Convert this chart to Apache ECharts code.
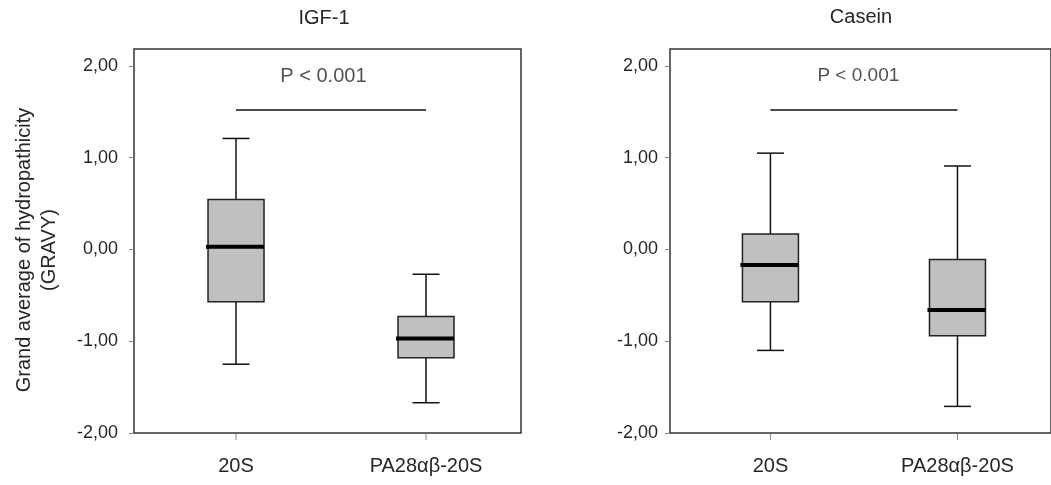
<!DOCTYPE html>
<html>
<head>
<meta charset="utf-8">
<script src="https://cdn.jsdelivr.net/npm/echarts@6/dist/echarts.min.js"></script>
<style>
  html, body { margin: 0; padding: 0; background: #fff; }
  #chart { width: 1051px; height: 485px; }
</style>
</head>
<body>
<div id="chart"></div>
<script>
// groups on the x axis
var categories = ['20S', 'PA28αβ-20S'];
// box stats per group: lower whisker, Q1, median, Q3, upper whisker
var igf1Box = [
  [-1.25, -0.57, 0.03, 0.545, 1.21],
  [-1.67, -1.18, -0.97, -0.73, -0.27]
];
var caseinBox = [
  [-1.10, -0.57, -0.17, 0.17, 1.05],
  [-1.71, -0.94, -0.66, -0.11, 0.91]
];
var yMin = -2, yMax = 2.185;
var sigLevel = 1.52;       // height of the significance bar
var pLabel = 'P < 0.001';
var panelTitles = ['IGF-1', 'Casein'];

var FONT = 'Liberation Sans, Arial, sans-serif';
var TXT = '#262626';

function fmt(v) {
  return v.toFixed(2).replace('.', ',');
}

function renderBox(params, api) {
  var x = api.value(0);
  var lo = api.coord([x, api.value(1)]);
  var q1 = api.coord([x, api.value(2)]);
  var med = api.coord([x, api.value(3)]);
  var q3 = api.coord([x, api.value(4)]);
  var hi = api.coord([x, api.value(5)]);
  var base = api.coord([x, yMin]);
  var cx = lo[0];
  var half = 28, cap = 13.5;
  var ln = { stroke: '#111', lineWidth: 1.5 };
  return {
    type: 'group',
    children: [
      // x tick under the group
      { type: 'line', shape: { x1: cx, y1: base[1] + 1, x2: cx, y2: base[1] + 7 },
        style: { stroke: '#888', lineWidth: 1 } },
      { type: 'line', shape: { x1: cx, y1: hi[1], x2: cx, y2: q3[1] }, style: ln },
      { type: 'line', shape: { x1: cx, y1: q1[1], x2: cx, y2: lo[1] }, style: ln },
      { type: 'line', shape: { x1: cx - cap, y1: hi[1], x2: cx + cap, y2: hi[1] }, style: ln },
      { type: 'line', shape: { x1: cx - cap, y1: lo[1], x2: cx + cap, y2: lo[1] }, style: ln },
      { type: 'rect', shape: { x: cx - half, y: q3[1], width: half * 2, height: q1[1] - q3[1] },
        style: { fill: '#c0c0c0', stroke: '#222', lineWidth: 1.5 } },
      { type: 'line', shape: { x1: cx - half - 2, y1: med[1], x2: cx + half, y2: med[1] },
        style: { stroke: '#000', lineWidth: 4 } }
    ]
  };
}

function xAxisFor(i) {
  return {
    type: 'value', gridIndex: i, min: -0.537, max: 1.5,
    splitLine: { show: false },
    axisLine: { show: false, onZero: false },
    axisTick: { show: false },
    axisLabel: {
      customValues: [0, 1], margin: 23,
      fontSize: 20, fontFamily: FONT, color: TXT,
      formatter: function (v) { return categories[Math.round(v)]; }
    }
  };
}

function yAxisFor(i, margin) {
  return {
    type: 'value', gridIndex: i, min: yMin, max: yMax, interval: 1,
    splitLine: { show: false },
    axisLine: { show: false, onZero: false },
    axisTick: { show: true, length: 5, lineStyle: { color: '#888', width: 1 } },
    axisLabel: {
      showMaxLabel: false, margin: margin,
      fontSize: 18, fontFamily: FONT, color: TXT,
      formatter: fmt
    }
  };
}

var boxes = [igf1Box, caseinBox];
var series = [];
boxes.forEach(function (b, i) {
  series.push({
    type: 'custom', xAxisIndex: i, yAxisIndex: i,
    renderItem: renderBox, clip: false,
    data: b.map(function (s, k) { return [k].concat(s); }),
    silent: true
  });
  series.push({
    type: 'line', xAxisIndex: i, yAxisIndex: i,
    data: [[0, sigLevel], [1, sigLevel]],
    showSymbol: false, silent: true,
    lineStyle: { color: '#111', width: 1.5 }
  });
  series.push({
    type: 'scatter', xAxisIndex: i, yAxisIndex: i,
    data: [[i === 0 ? 0.46 : 0.47, 1.89]],
    symbolSize: 1, itemStyle: { color: 'rgba(0,0,0,0)' }, silent: true,
    label: {
      show: true, position: 'inside', formatter: pLabel,
      fontSize: i === 0 ? 20 : 19, fontFamily: FONT, color: TXT
    }
  });
});

var chart = echarts.init(document.getElementById('chart'));
var option = {
  animation: false,
  backgroundColor: '#fff',
  title: [
    { text: panelTitles[0], left: 324, top: 8, padding: 0, textAlign: 'center',
      textStyle: { fontSize: 20, fontWeight: 'normal', fontFamily: FONT, color: TXT } },
    { text: panelTitles[1], left: 861, top: 7, padding: 0, textAlign: 'center',
      textStyle: { fontSize: 20, fontWeight: 'normal', fontFamily: FONT, color: TXT } }
  ],
  grid: [
    { left: 134, top: 49, width: 387, height: 384, show: true, borderColor: '#333', borderWidth: 1.5 },
    { left: 670, top: 49, width: 387, height: 384, show: true, borderColor: '#333', borderWidth: 1.5 }
  ],
  xAxis: [xAxisFor(0), xAxisFor(1)],
  yAxis: [yAxisFor(0, 16), yAxisFor(1, 12)],
  graphic: [{
    type: 'text', x: 37, y: 250, rotation: Math.PI / 2,
    style: {
      text: 'Grand average of hydropathicity\n(GRAVY)',
      textAlign: 'center', textVerticalAlign: 'middle',
      font: '20px ' + FONT, lineHeight: 25, fill: TXT
    }
  }],
  series: series
};
chart.setOption(option);
</script>
</body>
</html>
